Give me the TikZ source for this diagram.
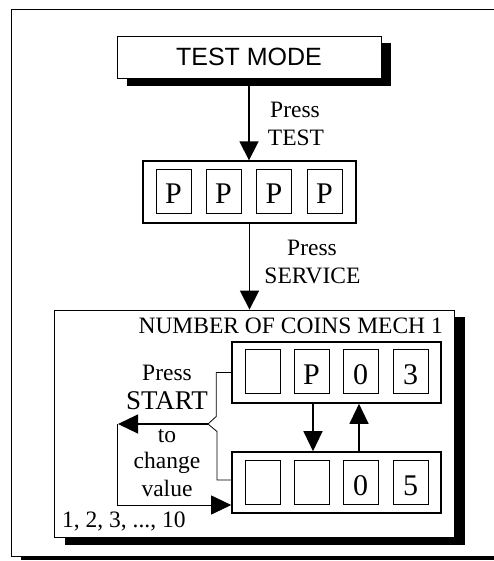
\documentclass[tikz,border=0pt]{standalone}
\usepackage{fontspec}
\setmainfont{Liberation Serif}
\newfontfamily\modefont{Liberation Sans}
\usetikzlibrary{arrows.meta,backgrounds}

\tikzset{
  panel/.style={draw, line width=0.9pt, fill=white, inner sep=0pt},
  display/.style={draw, line width=1.6pt, fill=white, inner sep=0pt, minimum width=209pt, minimum height=61pt},
  digit/.style={draw, line width=0.8pt, inner sep=0pt, minimum width=35pt, text height=34.5pt, text depth=9.5pt, font=\fontsize{30}{34}\selectfont},
  label/.style={inner sep=0pt, anchor=base, font=\fontsize{23.5}{28}\selectfont},
  flow/.style={line width=1.8pt, -{Triangle[length=19pt,width=19pt]}},
  toggle/.style={line width=1.2pt, -{Triangle[length=20pt,width=19pt]}},
  wire/.style={line width=0.8pt}
}

\begin{document}
\begin{tikzpicture}[x=1pt,y=-1pt]
\clip (0,0) rectangle (494,561);

\node[panel, minimum width=264pt, minimum height=42pt, font=\modefont\fontsize{25}{30}\selectfont] (mode) at (249,57) {TEST MODE};

\node[draw, line width=1.4pt, fill=white, minimum width=213pt, minimum height=62pt] (keys) at (249.5,192) {};
\foreach \x [count=\i] in {173.5,223.5,274,324.5}
  \node[digit] (p\i) at (\x,191.5) {P};

\node[panel, minimum width=400pt, minimum height=227pt] (coins) at (254,423.5) {};
\node[label, anchor=base east] (title) at (443,333) {NUMBER OF COINS MECH 1};

\begin{scope}[on background layer]
  \fill[white] (0,0) rectangle (494,561);
  \fill[black] (21,12) rectangle (530,560);
  \draw[line width=0.8pt, fill=white] (11,9) rectangle (520,556.5);
  \fill[black] ([shift={(10,7)}]mode.north west) rectangle ([shift={(10,8)}]mode.south east);
  \fill[black] ([shift={(11,7)}]coins.north west) rectangle ([shift={(11,8)}]coins.south east);
\end{scope}

\draw[flow] (mode.south) -- (mode.south |- keys.north);
\node[label] (press1) at (295,118) {Press};
\node[label] (test) at (296,146) {TEST};

\draw[flow] (keys.south) -- (keys.south |- coins.north);
\node[label] (press2) at (312,255) {Press};
\node[label] (service) at (312.5,283) {SERVICE};

\node[display] (upper) at (336.5,372.5) {};
\foreach \x/\t [count=\i] in {262.5/,311.5/P,360.5/0,410.5/3}
  \node[digit] (u\i) at (\x,371.5) {\t};
\node[display] (lower) at (336.5,482.5) {};
\foreach \x/\t [count=\i] in {262.5/,311.5/,360.5/0,410.5/5}
  \node[digit] (l\i) at (\x,482.5) {\t};

\draw[toggle] ([xshift=1.5pt]u2.south |- upper.south) -- ([xshift=1.5pt]u2.south |- lower.north);
\draw[toggle] ([xshift=-1.5pt]u3.south |- lower.north) -- ([xshift=-1.5pt]u3.south |- upper.south);

\coordinate (fork) at (208,424);
\coordinate (back) at (118,424);
\draw[wire] (upper.west) -- ++(-15,0) -- ++(0,44) -- (fork) -- (217,431.5) |- ([yshift=2.5pt]lower.west);
\draw[toggle] (fork) -- (back);
\draw[wire, -{Triangle[length=20pt,width=19pt]}] ([xshift=-1pt]back) |- ([yshift=-22.5pt]lower.west);

\node[label] (press3) at (167,380) {Press};
\node[label, font=\fontsize{27}{32}\selectfont] (start) at (167,409) {START};
\node[label] (to) at (167,442) {to};
\node[label] (change) at (167,468) {change};
\node[label] (value) at (167,496) {value};
\node[label, anchor=base west] (range) at (62,527) {1, 2, 3, ..., 10};
\end{tikzpicture}
\end{document}
